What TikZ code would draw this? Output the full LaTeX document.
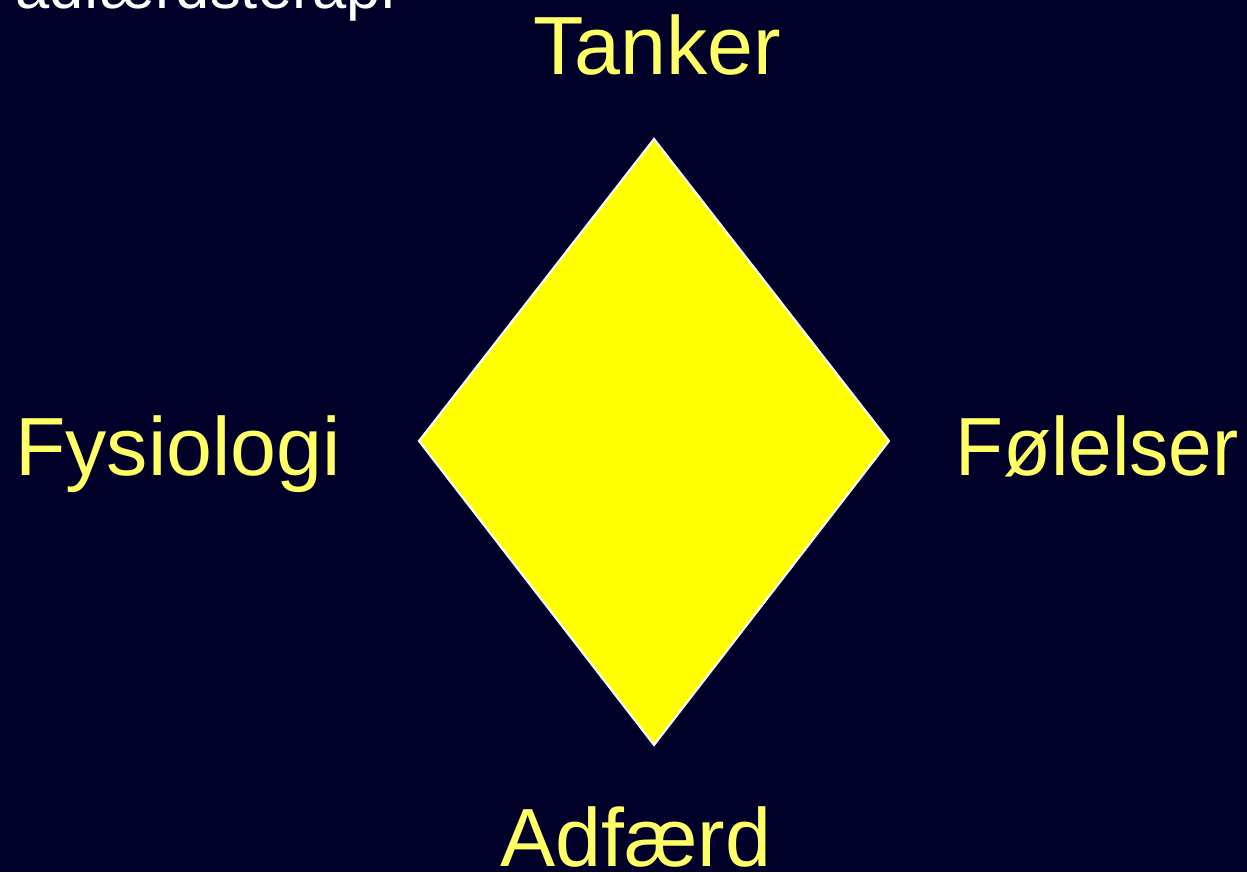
\documentclass[tikz,border=0pt]{standalone}
\usepackage{fontspec}
\setmainfont{Liberation Sans}
\usepackage{xcolor}
\usepackage{tikz}
\definecolor{natt}{RGB}{0,0,40}
\definecolor{lysgul}{RGB}{255,255,102}
\definecolor{ruter}{RGB}{255,255,0}

\begin{document}
\begin{tikzpicture}[x=0.02cm, y=-0.02cm, line join=miter,
    ord/.style={text=lysgul, anchor=base, inner sep=0pt, font=\fontsize{47}{50}\selectfont}]

% Baggrund
\fill[natt] (0,0) rectangle (1247,872);
\useasboundingbox (0,0) rectangle (1247,872);
\clip (0,0) rectangle (1247,872);

% Overskrift (skaaret af foroven)
\node[text=white, anchor=base west, inner sep=0pt, font=\fontsize{35}{38}\selectfont] (titel) at (15,9) {adfærdsterapi};

% Ruder
\coordinate (top) at (654,139);
\coordinate (hojre) at (889,441);
\coordinate (bund) at (654,745);
\coordinate (venstre) at (419,441);
\filldraw[fill=ruter, draw=white, line width=1.2pt] (top) -- (hojre) -- (bund) -- (venstre) -- cycle;

% Etiketter
\node[ord] (tanker) at (657,74) {Tanker};
\node[ord] (fysiologi) at (178,475) {Fysiologi};
\node[ord, xscale=0.95] (folelser) at (1097,475) {Følelser};
\node[ord] (adfaerd) at (636,866) {Adfærd};

\end{tikzpicture}
\end{document}
